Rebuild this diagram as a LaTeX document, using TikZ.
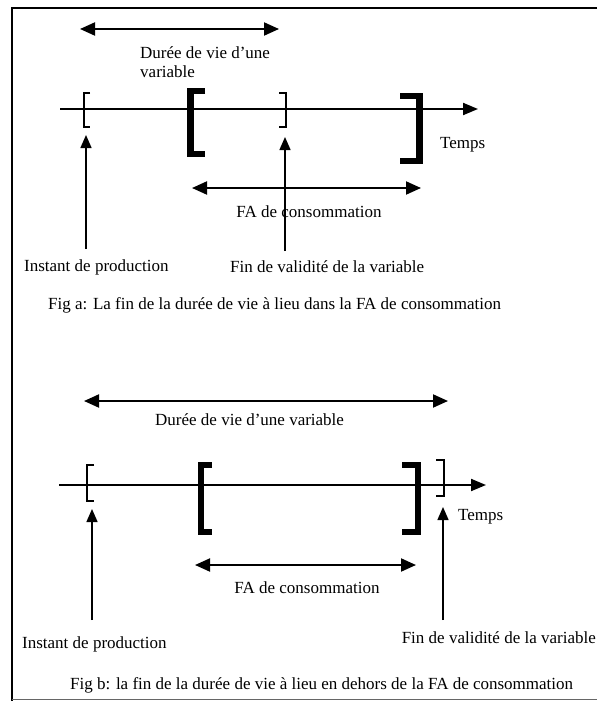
\documentclass[tikz,border=0pt]{standalone}
\usepackage{fontspec}
\setmainfont{Liberation Serif}
\usetikzlibrary{arrows.meta}
\begin{document}
\begin{tikzpicture}[x=1pt,y=-1pt,
  txt/.style={font=\fontsize{17}{19}\selectfont, inner sep=0pt, anchor=west},
  dbl/.style={line width=2pt, {Triangle[length=15pt,width=13pt]}-{Triangle[length=15pt,width=13pt]}},
  axis/.style={line width=2pt, -{Triangle[length=15pt,width=12pt]}},
  upar/.style={line width=1.4pt, -{Triangle[length=13pt,width=11pt]}},
  thinbr/.style={line width=1.6pt, miter limit=10},
  thickbr/.style={line width=6.5pt, miter limit=10},
  frame/.style={line width=1.6pt}]
\useasboundingbox (0,0) rectangle (597,701);
% frame
\draw[frame] (597,8) -- (12,8) -- (12,701);
\draw[line width=1pt, black!60] (12,699.5) -- (597,699.5);

% ===== Fig a =====
\coordinate (a-dl) at (80,29); \coordinate (a-dr) at (279,29);
\draw[dbl] (a-dl) -- (a-dr);
\node[txt, align=left, anchor=north west] (a-duree) at (140,46) {Durée de vie d'une\\variable};
\coordinate (a-ax0) at (60,109); \coordinate (a-ax1) at (478,109);
\draw[axis] (a-ax0) -- (a-ax1);
% brackets
\draw[thinbr] (90,93) -- (84,93) -- (84,127) -- (90,127);
\draw[thickbr] (205,91) -- (190.5,91) -- (190.5,154) -- (205,154);
\draw[thinbr] (279,93) -- (286,93) -- (286,127) -- (279,127);
\draw[thickbr] (400,96) -- (419.5,96) -- (419.5,161) -- (400,161);
\node[txt] (a-temps) at (440,145) {Temps};
% up arrows
\coordinate (a-u1b) at (86,249); \coordinate (a-u1t) at (86,135);
\coordinate (a-u2b) at (285,251); \coordinate (a-u2t) at (285,137);
\draw[upar] (a-u1b) -- (a-u1t);
\draw[upar] (a-u2b) -- (a-u2t);
% FA
\coordinate (a-fl) at (192,188); \coordinate (a-fr) at (421,188);
\draw[dbl] (a-fl) -- (a-fr);
\node[txt, anchor=center] (a-fa) at (309,212) {FA de consommation};
\node[txt] (a-inst) at (24,267) {Instant de production};
\node[txt] (a-fin) at (230,267) {Fin de validité de la variable};
\node[txt] (a-cap) at (48,305) {Fig a: La fin de la durée de vie à lieu dans la FA de consommation};

% ===== Fig b =====
\coordinate (b-dl) at (84,401); \coordinate (b-dr) at (448,401);
\draw[dbl] (b-dl) -- (b-dr);
\node[txt] (b-duree) at (155,420) {Durée de vie d'une variable};
\coordinate (b-ax0) at (59,485); \coordinate (b-ax1) at (486,485);
\draw[axis] (b-ax0) -- (b-ax1);
\draw[thinbr] (94,465) -- (87,465) -- (87,501) -- (94,501);
\draw[thickbr] (212,465) -- (201,465) -- (201,532) -- (212,532);
\draw[thickbr] (402,465) -- (418,465) -- (418,532) -- (402,532);
\draw[thinbr] (436,460) -- (444,460) -- (444,496) -- (436,496);
\node[txt] (b-temps) at (458,517) {Temps};
\coordinate (b-u1b) at (92,620); \coordinate (b-u1t) at (92,509);
\coordinate (b-u2b) at (443,620); \coordinate (b-u2t) at (443,507);
\draw[upar] (b-u1b) -- (b-u1t);
\draw[upar] (b-u2b) -- (b-u2t);
\coordinate (b-fl) at (195,565); \coordinate (b-fr) at (416,565);
\draw[dbl] (b-fl) -- (b-fr);
\node[txt, anchor=center] (b-fa) at (307,588) {FA de consommation};
\node[txt] (b-inst) at (22,644) {Instant de production};
\node[txt, anchor=east] (b-fin) at (596,638) {Fin de validité de la variable};
\node[txt] (b-cap) at (70,685) {Fig b: la fin de la durée de vie à lieu en dehors de la FA de consommation};
\end{tikzpicture}
\end{document}
